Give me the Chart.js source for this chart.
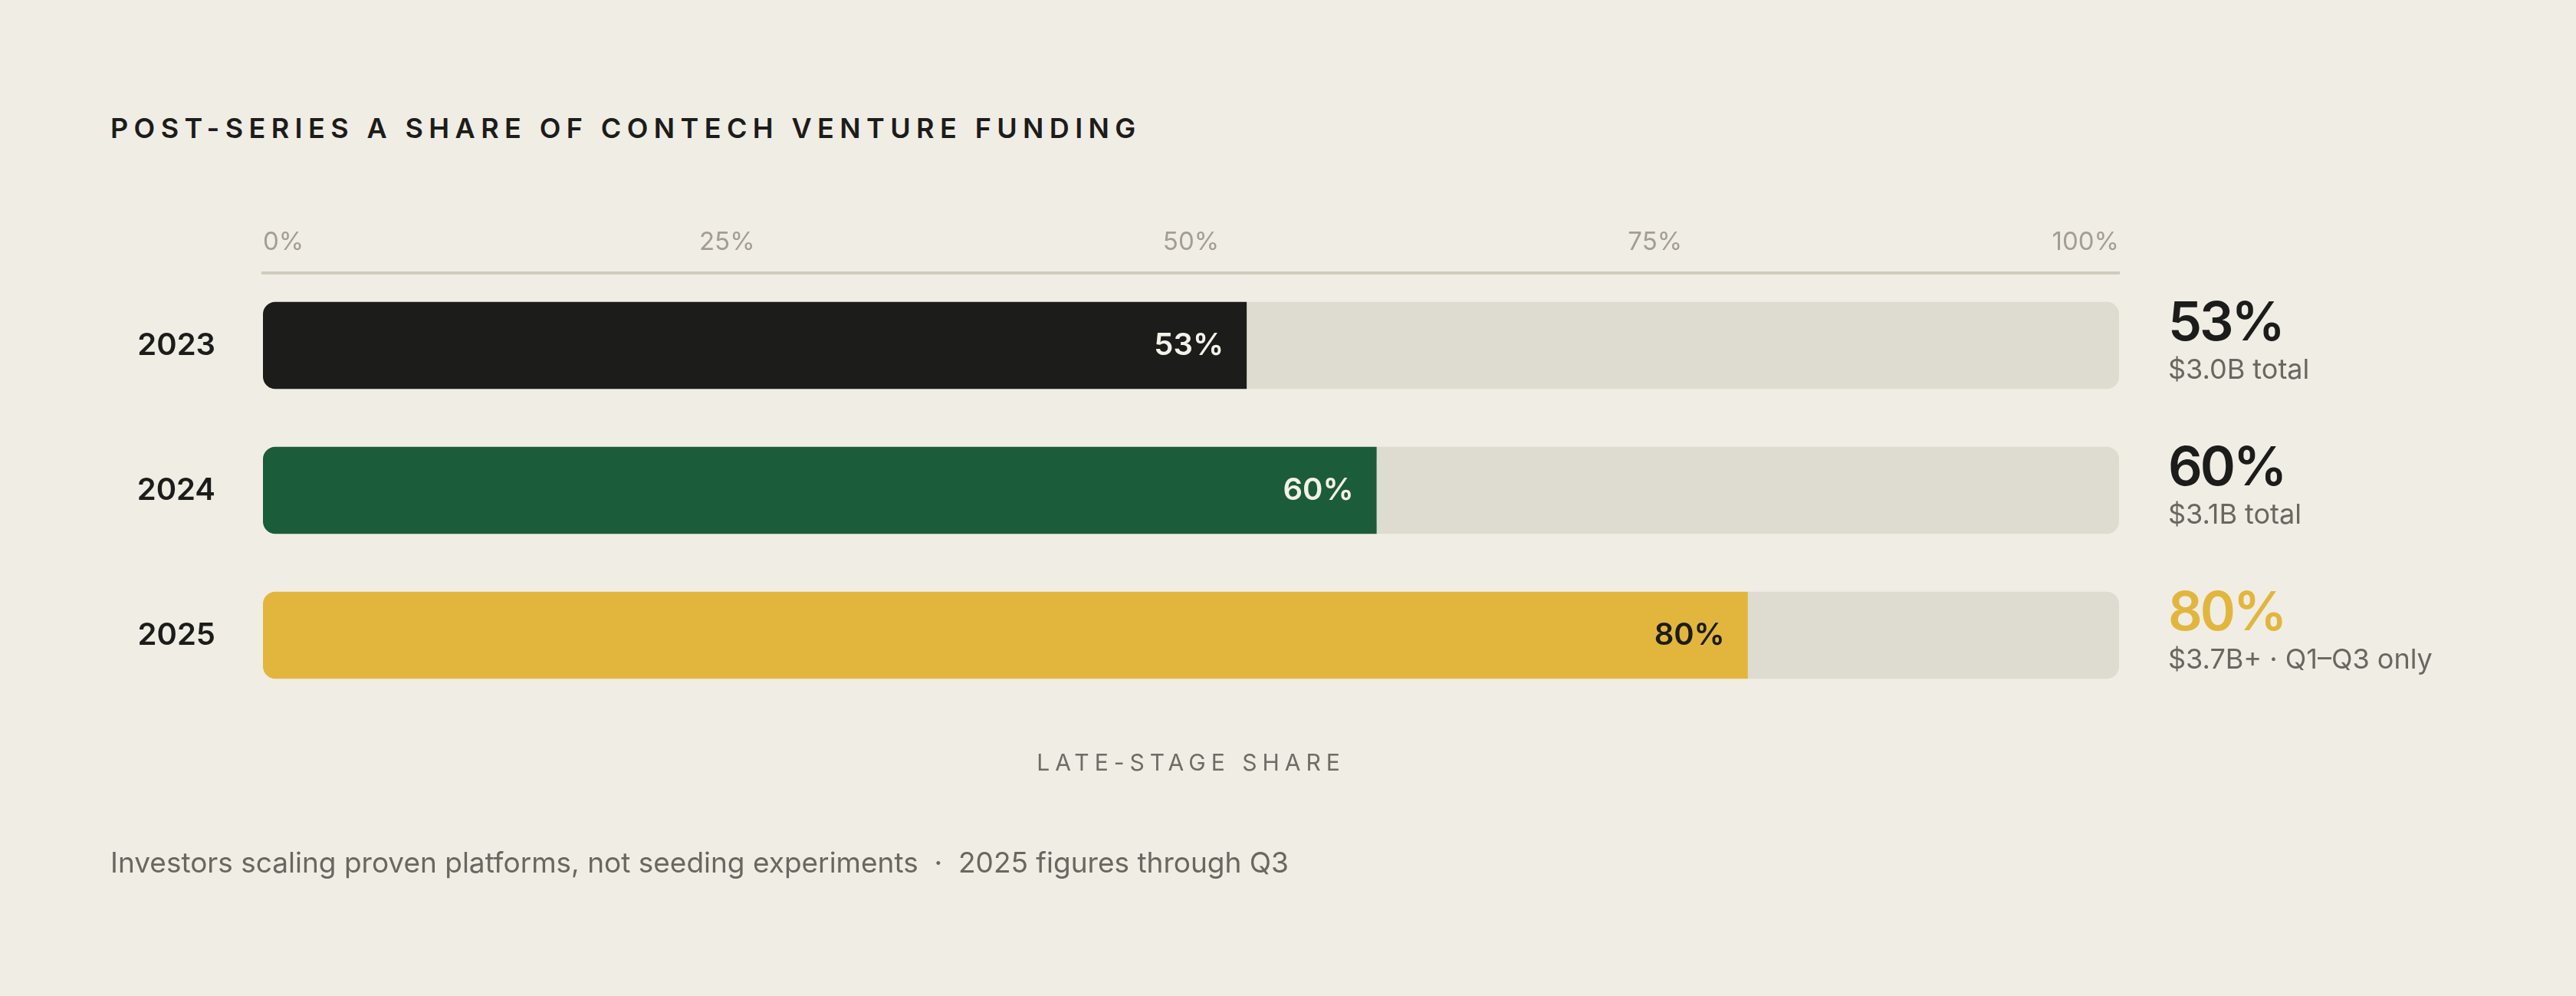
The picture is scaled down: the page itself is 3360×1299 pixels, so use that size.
<!DOCTYPE html>
<html>
<head>
<meta charset="utf-8">
<script src="https://cdn.jsdelivr.net/npm/chart.js@4.4.1/dist/chart.umd.min.js"></script>
<style>
  html, body { margin: 0; padding: 0; background: #F0EDE5; }
  body { width: 3360px; height: 1299px; position: relative; overflow: hidden; font-family: "Inter", "DejaVu Sans", sans-serif; }
  #chart { position: absolute; left: 0; top: 0; }
  .title { position: absolute; left: 144px; top: 149px; font-size: 36px; line-height: 36px; font-weight: 600; letter-spacing: 7.4px; color: #1C1C1A; }
  .axis-title { position: absolute; left: 343px; width: 2421px; top: 979px; text-align: center; font-size: 30px; line-height: 30px; letter-spacing: 7px; color: #6F6C66; }
  .footer { position: absolute; left: 144px; top: 1106px; font-size: 37px; line-height: 37px; color: #6A6761; }
</style>
</head>
<body>
<div class="title">POST-SERIES A SHARE OF CONTECH VENTURE FUNDING</div>
<canvas id="chart" width="3360" height="1299"></canvas>
<div class="axis-title">LATE-STAGE SHARE</div>
<div class="footer">Investors scaling proven platforms, not seeding experiments &nbsp;·&nbsp; 2025 figures through Q3</div>
<script>
// chart data
const years = ['2023', '2024', '2025'];
const lateShare = [53, 60, 80];
const totals = ['$3.0B total', '$3.1B total', '$3.7B+ · Q1–Q3 only'];
const barColors = ['#1C1C1A', '#1B5C3A', '#E2B63D'];
const innerLabelColors = ['#F4F1E8', '#F4F1E8', '#1C1C1A'];
const sideLabelColors = ['#1C1C1A', '#1C1C1A', '#E2B63D'];

const remainder = lateShare.map(v => 100 - v);

// draws the value inside each bar and the summary on the right
const labelPlugin = {
    id: 'barLabels',
    afterDatasetsDraw(chart) {
        const ctx = chart.ctx;
        const meta = chart.getDatasetMeta(0);
        const area = chart.chartArea;
        ctx.save();
        meta.data.forEach((bar, i) => {
            ctx.textBaseline = 'middle';
            ctx.textAlign = 'right';
            ctx.letterSpacing = '0px';
            ctx.fillStyle = innerLabelColors[i];
            ctx.font = '600 40px Inter, sans-serif';
            ctx.fillText(lateShare[i] + '%', bar.x - 30, bar.y);

            ctx.textAlign = 'left';
            ctx.fillStyle = sideLabelColors[i];
            ctx.letterSpacing = '-3px';
            ctx.font = '600 70px Inter, sans-serif';
            ctx.fillText(lateShare[i] + '%', area.right + 64, bar.y - 28);

            ctx.letterSpacing = '0px';
            ctx.fillStyle = '#6A6761';
            ctx.font = '36px Inter, sans-serif';
            ctx.fillText(totals[i], area.right + 64, bar.y + 33);
        });
        ctx.restore();
    }
};

const ctx = document.getElementById('chart').getContext('2d');
new Chart(ctx, {
    type: 'bar',
    data: {
        labels: years,
        datasets: [
            {
                label: 'Late-stage share',
                data: lateShare,
                backgroundColor: barColors,
                borderWidth: 0,
                borderSkipped: false,
                borderRadius: { topLeft: 16, bottomLeft: 16, topRight: 0, bottomRight: 0 },
                barPercentage: 0.6,
                categoryPercentage: 1
            },
            {
                label: 'Remainder',
                data: remainder,
                backgroundColor: '#DEDBD0',
                borderWidth: 0,
                borderSkipped: false,
                borderRadius: { topLeft: 0, bottomLeft: 0, topRight: 16, bottomRight: 16 },
                barPercentage: 0.6,
                categoryPercentage: 1
            }
        ]
    },
    options: {
        indexAxis: 'y',
        responsive: false,
        animation: false,
        devicePixelRatio: 1,
        layout: {
            padding: { left: 150, right: 596, top: 250, bottom: 376 }
        },
        plugins: {
            legend: { display: false },
            tooltip: { enabled: false }
        },
        scales: {
            x: {
                position: 'top',
                stacked: true,
                min: 0,
                max: 100,
                afterFit(scale) { scale.height = 106; },
                ticks: {
                    stepSize: 25,
                    align: 'inner',
                    padding: 20,
                    color: '#A29E94',
                    font: { family: 'Inter', size: 33 },
                    callback: v => v + '%'
                },
                grid: { display: false, drawTicks: false },
                border: { display: true, color: '#CFCBBD', width: 4 }
            },
            y: {
                stacked: true,
                afterFit(scale) { scale.width = 193; },
                ticks: {
                    padding: 62,
                    color: '#1C1C1A',
                    font: { family: 'Inter', size: 40, weight: '600' }
                },
                grid: { display: false, drawTicks: false },
                border: { display: false }
            }
        }
    },
    plugins: [labelPlugin]
});
</script>
</body>
</html>
